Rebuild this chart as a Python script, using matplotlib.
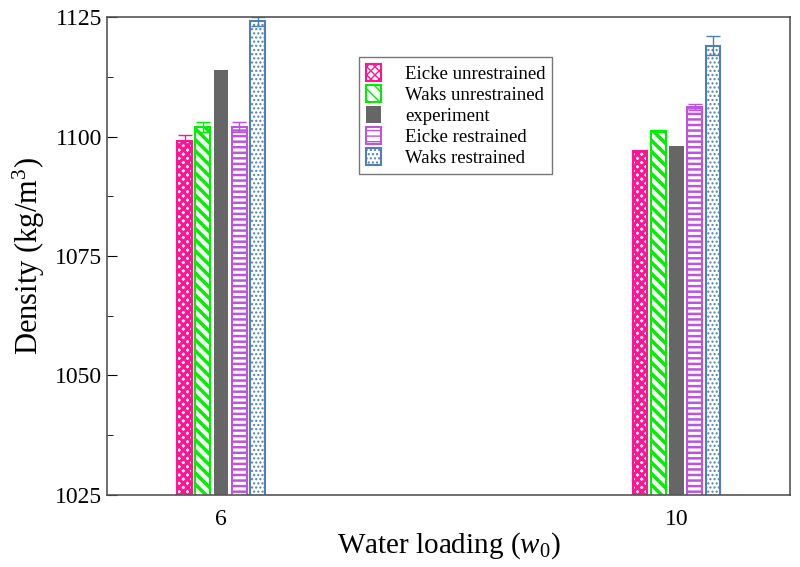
import matplotlib
matplotlib.use("Agg")
import matplotlib.pyplot as plt
import numpy as np
from matplotlib.ticker import MultipleLocator

plt.rcParams['font.family'] = ['Liberation Serif', 'DejaVu Serif']
plt.rcParams['mathtext.fontset'] = 'custom'
plt.rcParams['mathtext.rm'] = 'Liberation Serif'
plt.rcParams['mathtext.it'] = 'Liberation Serif:italic'

groups = [6, 10]
series = ["Eicke unrestrained", "Waks unrestrained", "experiment",
          "Eicke restrained", "Waks restrained"]
values = {
    "Eicke unrestrained": [1099.1, 1097.0],
    "Waks unrestrained": [1102.0, 1101.2],
    "experiment": [1114.0, 1098.0],
    "Eicke restrained": [1102.0, 1106.1],
    "Waks restrained": [1124.1, 1119.0],
}
errors = {
    "Eicke unrestrained": [1.2, 0.0],
    "Waks unrestrained": [1.0, 0.2],
    "experiment": [0.0, 0.0],
    "Eicke restrained": [1.0, 0.6],
    "Waks restrained": [1.0, 2.0],
}

colors = ["#ff1493", "#00ee00", "#666666", "#bb55dd", "#4f7fb5"]
hatches = ["xxxx", "\\\\\\", None, "---", "...."]
hatch_lw = [2.2, 2.5, 1.0, 1.8, 1.0]
offsets = [-0.32, -0.16, 0.0, 0.16, 0.32]
width = 0.13

fig, ax = plt.subplots(figsize=(8, 5.67), dpi=100)
fig.subplots_adjust(left=0.134, right=0.988, bottom=0.127, top=0.97)

x = np.array(groups, dtype=float)
for name, c, h, hl, off in zip(series, colors, hatches, hatch_lw, offsets):
    if h is None:
        ax.bar(x + off, values[name], width, color=c, label=name)
    else:
        with plt.rc_context({'hatch.linewidth': hl}):
            ax.bar(x + off, values[name], width, facecolor="white",
                   edgecolor=c, hatch=h, linewidth=1.5, label=name)
        ax.errorbar(x + off, values[name], yerr=errors[name], fmt="none",
                    ecolor=c, elinewidth=1.0, capsize=5, capthick=1.0)

ax.set_xlim(5, 11)
ax.set_ylim(1025, 1125)
ax.set_xticks(groups)
ax.set_xticklabels([str(g) for g in groups])
ax.yaxis.set_major_locator(MultipleLocator(25))
ax.yaxis.set_minor_locator(MultipleLocator(12.5))
ax.tick_params(axis="y", which="both", direction="in", right=False,
               labelsize=17)
ax.tick_params(axis="y", which="major", length=7)
ax.tick_params(axis="y", which="minor", length=4)
ax.tick_params(axis="x", length=0, labelsize=17, pad=10)

for s in ax.spines.values():
    s.set_color("#555555")
    s.set_linewidth(1.2)

ax.set_xlabel(r"Water loading ($w_0$)", fontsize=21, labelpad=0)
ax.set_ylabel(r"Density (kg/m$^3$)", fontsize=22, labelpad=6)

leg = ax.legend(loc="upper left", bbox_to_anchor=(0.355, 0.935),
                fontsize=13.5, frameon=True, fancybox=False,
                handlelength=0.8, handleheight=1.0, handletextpad=1.3,
                labelspacing=0.12, borderpad=0.35)
leg.get_frame().set_edgecolor("#555555")
leg.get_frame().set_linewidth(1.0)

fig.savefig("out.png", dpi=100)
